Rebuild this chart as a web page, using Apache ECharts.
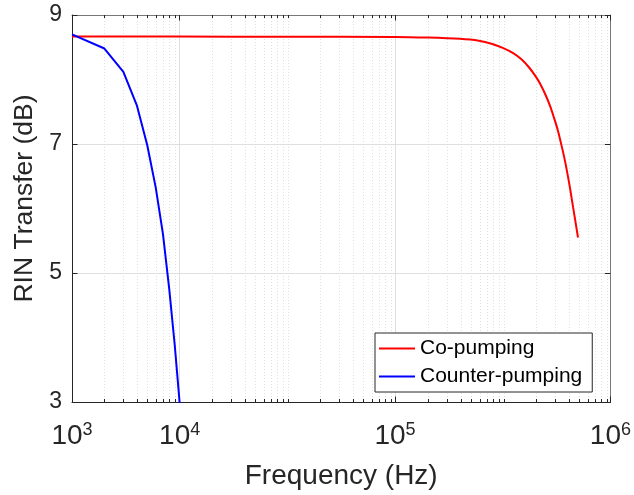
<!DOCTYPE html>
<html><head><meta charset="utf-8">
<script src="https://cdn.jsdelivr.net/npm/echarts@6/dist/echarts.min.js"></script>
<style>html,body{margin:0;padding:0;background:#fff}#c{width:634px;height:495px}</style>
</head><body><div id="c"></div>
<script>
// ---- data ----
const coFreq = [1e3, 1e4, 1e5, 1e6, 2e6, 4e6, 6e6, 8e6, 1e7, 1.25e7, 1.5e7, 1.75e7, 2e7, 2.25e7, 2.5e7, 2.75e7, 3e7, 3.25e7, 3.5e7, 3.75e7, 4e7, 4.25e7, 4.5e7, 4.75e7, 5e7];
const coRIN = [8.665, 8.665, 8.663, 8.66, 8.65, 8.63, 8.60, 8.55, 8.49, 8.41, 8.31, 8.19, 8.06, 7.92, 7.76, 7.59, 7.40, 7.21, 6.99, 6.77, 6.53, 6.28, 6.02, 5.78, 5.55];
const counterFreq = [1e3, 2e3, 3e3, 4e3, 5e3, 6e3, 7e3, 8e3, 9e3, 1e4];
const counterRIN = [8.70, 8.48, 8.12, 7.60, 6.98, 6.32, 5.60, 4.75, 3.88, 2.98];
const seriesNames = ['Co-pumping', 'Counter-pumping'];
const xTickValues = [1e3, 1e4, 1e6, 1e8];
const xTickExponents = ['3', '4', '5', '6'];
const yMin = 3, yMax = 9, yStep = 2;
const xMin = 1e3, xMax = 1e8;

const minorTickValues = [];
for (let e = 3; e < 8; e++) {
  for (let m = 1; m <= 9; m++) {
    const v = m * Math.pow(10, e);
    if (xTickValues.indexOf(v) < 0) minorTickValues.push(v);
  }
}

const FONT = 'Liberation Sans, Arial, Helvetica, sans-serif';
const AX = '#262626';
const BOX = '#777777';
const GRID = '#dfdfdf';

function toPairs(xs, ys) { return xs.map((x, i) => [x, ys[i]]); }

const chart = echarts.init(document.getElementById('c'), null, {renderer: 'canvas'});
const gridRect = {left: 72, right: 22, top: 15, bottom: 93};

chart.setOption({
  animation: false,
  backgroundColor: '#fff',
  grid: [Object.assign({}, gridRect), Object.assign({}, gridRect)],
  xAxis: [
    {
      gridIndex: 0, type: 'log', logBase: 10, min: xMin, max: xMax, position: 'bottom',
      name: 'Frequency (Hz)', nameLocation: 'middle', nameGap: 60,
      nameTextStyle: {fontFamily: FONT, fontSize: 28, color: AX},
      axisLine: {show: true, lineStyle: {color: AX, width: 1}},
      axisTick: {show: true, inside: true, length: 5.5, customValues: xTickValues, lineStyle: {color: AX}},
      axisLabel: {
        show: true, customValues: xTickValues, margin: 19, showMinLabel: true, showMaxLabel: true,
        formatter: function (v) {
          const i = xTickValues.findIndex(t => Math.abs(t - v) / t < 1e-6);
          return i < 0 ? '' : '{b|10}{s|' + xTickExponents[i] + '}';
        },
        rich: {
          b: {fontFamily: FONT, fontSize: 28, lineHeight: 30, color: AX},
          s: {fontFamily: FONT, fontSize: 18, lineHeight: 14, color: AX, verticalAlign: 'top'}
        }
      },
      splitLine: {show: true, lineStyle: {color: GRID, width: 1}},
      minorTick: {show: false}, minorSplitLine: {show: false}
    },
    {
      gridIndex: 0, type: 'log', logBase: 10, min: xMin, max: xMax, position: 'top',
      axisLine: {show: true, lineStyle: {color: BOX, width: 1}},
      axisTick: {show: true, inside: true, length: 5.5, customValues: xTickValues, lineStyle: {color: AX}},
      axisLabel: {show: false}, splitLine: {show: false}
    },
    {
      gridIndex: 1, type: 'log', logBase: 10, min: xMin, max: xMax, position: 'bottom',
      axisLine: {show: false},
      axisTick: {show: true, inside: true, length: 3, customValues: minorTickValues, lineStyle: {color: AX}},
      axisLabel: {show: false},
      splitLine: {show: true, lineStyle: {color: '#e0e0e0', width: 1, type: [1, 2]}}
    },
    {
      gridIndex: 1, type: 'log', logBase: 10, min: xMin, max: xMax, position: 'top',
      axisLine: {show: false},
      axisTick: {show: true, inside: true, length: 3, customValues: minorTickValues, lineStyle: {color: AX}},
      axisLabel: {show: false}, splitLine: {show: false}
    }
  ],
  yAxis: [
    {
      gridIndex: 0, type: 'value', min: yMin, max: yMax, interval: yStep, position: 'left',
      name: 'RIN Transfer (dB)', nameLocation: 'middle', nameGap: 29,
      nameTextStyle: {fontFamily: FONT, fontSize: 26.5, color: AX, padding: [0, 0, 0, 20]},
      axisLine: {show: true, lineStyle: {color: AX, width: 1}},
      axisTick: {show: true, inside: true, length: 5.5, lineStyle: {color: AX}},
      axisLabel: {show: true, margin: 10, fontFamily: FONT, fontSize: 23, color: AX},
      splitLine: {show: true, lineStyle: {color: GRID, width: 1}}
    },
    {
      gridIndex: 0, type: 'value', min: yMin, max: yMax, interval: yStep, position: 'right',
      axisLine: {show: true, lineStyle: {color: BOX, width: 1}},
      axisTick: {show: true, inside: true, length: 5.5, lineStyle: {color: AX}},
      axisLabel: {show: false}, splitLine: {show: false}
    },
    {gridIndex: 1, type: 'value', min: yMin, max: yMax, show: false}
  ],
  legend: {
    data: seriesNames, orient: 'vertical', left: 375, top: 333,
    icon: 'rect', itemWidth: 36, itemHeight: 2, itemGap: 7,
    padding: [5, 10, 5, 4], borderColor: AX, borderWidth: 1, backgroundColor: '#fff',
    textStyle: {fontFamily: FONT, fontSize: 21, lineHeight: 21, color: '#000'}
  },
  series: [
    {
      name: seriesNames[0], type: 'line', xAxisIndex: 0, yAxisIndex: 0,
      data: toPairs(coFreq, coRIN), symbol: 'none', smooth: 0.3,
      lineStyle: {color: '#ff0000', width: 2}, itemStyle: {color: '#ff0000'}
    },
    {
      name: seriesNames[1], type: 'line', xAxisIndex: 0, yAxisIndex: 0,
      data: toPairs(counterFreq, counterRIN), symbol: 'none',
      lineStyle: {color: '#0000ff', width: 2}, itemStyle: {color: '#0000ff'}
    }
  ]
});
</script>
</body></html>
